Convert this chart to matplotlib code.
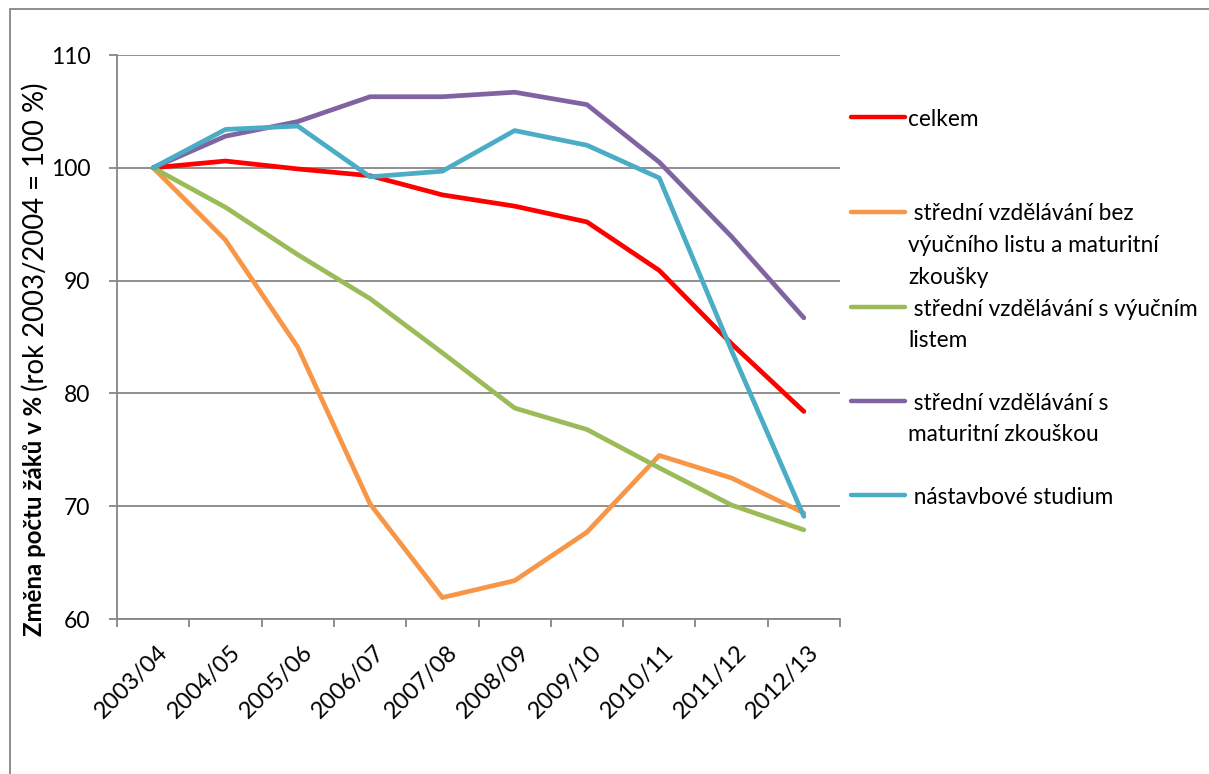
import matplotlib
matplotlib.use("Agg")
import matplotlib.pyplot as plt
from matplotlib.transforms import ScaledTranslation
from matplotlib.lines import Line2D
from matplotlib.patches import Rectangle

years = ["2003/04", "2004/05", "2005/06", "2006/07", "2007/08",
         "2008/09", "2009/10", "2010/11", "2011/12", "2012/13"]
celkem = [100, 100.6, 99.9, 99.3, 97.6, 96.6, 95.2, 90.9, 84.4, 78.4]
bez_listu = [100, 93.6, 84.1, 70.2, 61.9, 63.4, 67.7, 74.5, 72.5, 69.4]
s_listem = [100, 96.5, 92.3, 88.4, 83.6, 78.7, 76.8, 73.4, 70.1, 67.9]
s_maturitou = [100, 102.8, 104.1, 106.3, 106.3, 106.7, 105.6, 100.5, 93.9, 86.7]
nastavbove = [100, 103.4, 103.7, 99.2, 99.7, 103.3, 102.0, 99.1, 83.8, 69.1]

labels = ["celkem",
          " střední vzdělávání bez\nvýučního listu a maturitní\nzkoušky",
          " střední vzdělávání s výučním\nlistem",
          " střední vzdělávání s\nmaturitní zkouškou",
          " nástavbové studium"]
colors = ["#FF0000", "#F79646", "#9BBB59", "#8064A2", "#4BACC6"]
series = [celkem, bez_listu, s_listem, s_maturitou, nastavbove]
yticks = [60, 70, 80, 90, 100, 110]

FONT = "Lato"
GRAY = "#868686"

W, H = 1209, 774
fig = plt.figure(figsize=(W / 100, H / 100), dpi=100)
fig.patch.set_facecolor("white")

# outer chart border
fig.patches.append(Rectangle((10 / W, -0.05), 1.2, (H - 9) / H + 0.05,
                             transform=fig.transFigure, fill=False,
                             edgecolor=GRAY, linewidth=1.3))

ax = fig.add_axes([117 / W, 1 - 619 / H, (840 - 117) / W, (619 - 55) / H])
x = list(range(len(years)))
for vals, c in zip(series, colors):
    ax.plot(x, vals, color=c, linewidth=3.4, solid_capstyle="round",
            solid_joinstyle="round", zorder=3)

ax.set_xlim(-0.5, len(years) - 0.5)
ax.set_ylim(60, 110)
ax.set_yticks(yticks)
ax.set_yticklabels([str(v) for v in yticks], fontfamily=FONT, fontsize=16.5)
ax.set_xticks([i - 0.5 for i in range(len(years) + 1)])
ax.set_xticklabels([])
ax.tick_params(axis="x", direction="out", length=6, width=1.3, color=GRAY)
ax.tick_params(axis="y", direction="out", length=6, width=1.3, color=GRAY,
               pad=13, labelcolor="black")
for s in ["top", "right"]:
    ax.spines[s].set_visible(False)
for s in ["left", "bottom"]:
    ax.spines[s].set_color(GRAY)
    ax.spines[s].set_linewidth(1.3)
ax.yaxis.grid(True, color=GRAY, linewidth=1.3)
ax.set_axisbelow(True)

# rotated category labels
off = ScaledTranslation(4 / 100, -23 / 100, fig.dpi_scale_trans)
for i, lab in enumerate(years):
    ax.text(i, 0, lab, transform=ax.get_xaxis_transform() + off,
            rotation=45, rotation_mode="anchor", ha="right", va="top",
            fontfamily=FONT, fontsize=17, color="black")

# legend drawn manually
leg_y = [117, 212, 307, 401, 495]
for lab, c, yy in zip(labels, colors, leg_y):
    fy = 1 - yy / H
    fig.lines.append(Line2D([851 / W, 905 / W], [fy, fy], transform=fig.transFigure,
                            color=c, linewidth=3.2, solid_capstyle="round"))
    fig.text(908 / W, fy, lab, ha="left", va="top", fontfamily=FONT,
             fontsize=16.3, linespacing=1.62,
             transform=fig.transFigure + ScaledTranslation(0, 0.085, fig.dpi_scale_trans))

# y-axis label: bold + normal part
fig.canvas.draw()
r = fig.canvas.get_renderer()
t1 = fig.text(35 / W, 1 - 636 / H, "Změna počtu žáků v %", rotation=90,
              rotation_mode="anchor", ha="left", va="center",
              fontfamily=FONT, fontweight="bold", fontsize=17.3)
bb = t1.get_window_extent(renderer=r)
t2 = fig.text(35 / W, (bb.y1 + 5) / H, "(rok 2003/2004 = 100 %)", rotation=90,
              rotation_mode="anchor", ha="left", va="center",
              fontfamily=FONT, fontsize=19.8)

fig.savefig("out.png", dpi=100, facecolor="white")
